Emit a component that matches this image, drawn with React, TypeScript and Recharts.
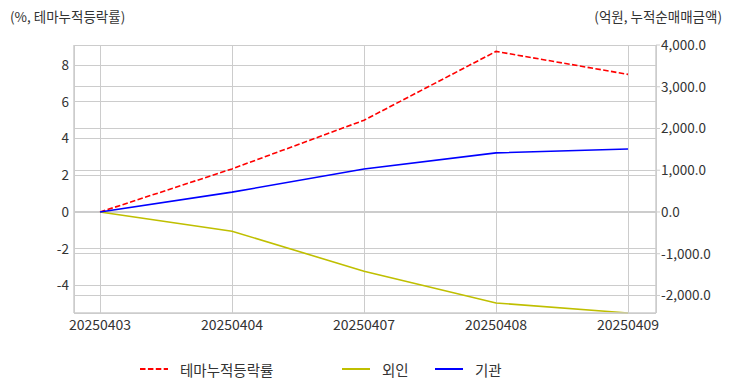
import React from "react";
import {
  LineChart,
  Line,
  XAxis,
  YAxis,
  CartesianGrid,
  ReferenceLine,
} from "recharts";

const dates = ["20250403", "20250404", "20250407", "20250408", "20250409"];
const themeReturn = [0, 2.35, 5.0, 8.75, 7.5];
const foreign = [0, -460, -1420, -2180, -2420];
const institution = [0, 475, 1030, 1415, 1510];

const leftTicks = [-4, -2, 0, 2, 4, 6, 8];
const rightTicks = [-2000, -1000, 0, 1000, 2000, 3000, 4000];
const leftDomain = [-5.5, 9.1];
const rightDomain = [-2420, 4000];

const data = dates.map((d, i) => ({
  date: d,
  theme: themeReturn[i],
  foreign: foreign[i],
  institution: institution[i],
}));

const FONT = '"Noto Sans CJK KR", "Noto Sans", sans-serif';
const GRID = "#cccccc";
const TEXT = "#333333";

const series = [
  { key: "theme", name: "테마누적등락률", color: "#ff0000", dash: "5.5 2.4", axis: 0 },
  { key: "foreign", name: "외인", color: "#bfbf00", dash: undefined, axis: "right" },
  { key: "institution", name: "기관", color: "#0000ff", dash: undefined, axis: "right" },
];

const fmtRight = (v: number) =>
  v.toLocaleString("en-US", { minimumFractionDigits: 1, maximumFractionDigits: 1 });

const legendPos = [140, 342, 435];

export default function App() {
  return (
    <div
      style={{
        position: "absolute",
        left: 0,
        top: 0,
        width: 732,
        height: 392,
        background: "#fff",
        fontFamily: FONT,
        color: TEXT,
      }}
    >
      <div style={{ position: "absolute", left: 10, top: 6, fontSize: 13.5 }}>
        (%, 테마누적등락률)
      </div>
      <div style={{ position: "absolute", right: 10, top: 6, fontSize: 13.5 }}>
        (억원, 누적순매매금액)
      </div>

      <LineChart
        width={732}
        height={392}
        data={data}
        margin={{ top: 45, right: 0, bottom: 0, left: 34 }}
        style={{ fontFamily: FONT }}
      >
        <CartesianGrid stroke={GRID} strokeWidth={1} shapeRendering="crispEdges" />
        {rightTicks.map((t) => (
          <ReferenceLine
            key={"r" + t}
            yAxisId="right"
            y={t}
            stroke={GRID}
            strokeWidth={1}
            shapeRendering="crispEdges"
          />
        ))}
        <XAxis
          dataKey="date"
          padding={{ left: 26, right: 28 }}
          height={79}
          axisLine={{ stroke: GRID, strokeWidth: 1.5 }}
          tickLine={false}
          tickSize={0}
          tickMargin={7}
          tick={{ fill: TEXT, fontSize: 14 }}
          interval={0}
        />
        <XAxis
          xAxisId="top"
          dataKey="date"
          orientation="top"
          height={0}
          padding={{ left: 26, right: 28 }}
          tick={false}
          tickLine={false}
          axisLine={{ stroke: GRID, strokeWidth: 1.5 }}
        />
        <YAxis
          domain={leftDomain}
          ticks={leftTicks}
          width={40}
          axisLine={{ stroke: GRID, strokeWidth: 1.5 }}
          tickLine={false}
          tickSize={0}
          tickMargin={5}
          tick={{ fill: TEXT, fontSize: 13.5 }}
        />
        <YAxis
          yAxisId="right"
          orientation="right"
          domain={rightDomain}
          ticks={rightTicks}
          width={76}
          axisLine={{ stroke: GRID, strokeWidth: 1.5 }}
          tickLine={{ stroke: GRID }}
          tickSize={4}
          tickMargin={1}
          tickFormatter={fmtRight}
          tick={{ fill: TEXT, fontSize: 13.5, textAnchor: "start" }}
        />
        {series.map((s) => (
          <Line
            key={s.key}
            yAxisId={s.axis}
            dataKey={s.key}
            name={s.name}
            stroke={s.color}
            strokeWidth={1.6}
            strokeDasharray={s.dash}
            dot={false}
            isAnimationActive={false}
          />
        ))}
      </LineChart>

      {series.map((s, i) => (
        <div
          key={s.key}
          style={{
            position: "absolute",
            left: legendPos[i],
            top: 359,
            display: "flex",
            alignItems: "center",
            fontSize: 14.5,
            height: 20,
          }}
        >
          <svg width={28} height={4} style={{ marginRight: 12 }}>
            <line
              x1={0}
              y1={2}
              x2={28}
              y2={2}
              stroke={s.color}
              strokeWidth={2}
              strokeDasharray={s.dash}
            />
          </svg>
          <span>{s.name}</span>
        </div>
      ))}
    </div>
  );
}
